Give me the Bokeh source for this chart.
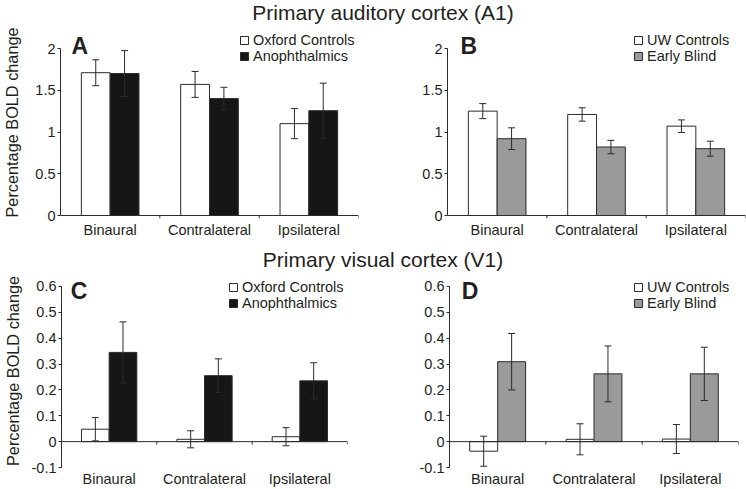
from bokeh.plotting import figure
from bokeh.models import (Range1d, Span, Whisker, TeeHead, Legend, LegendItem, Label,
                          ColumnDataSource, NumeralTickFormatter, FixedTicker)
from bokeh.transform import dodge
from bokeh.layouts import column, row
from bokeh.embed import file_html
from bokeh.resources import INLINE

# ---------------- data ----------------
categories = ["Binaural", "Contralateral", "Ipsilateral"]

# A: Primary auditory cortex, Oxford controls vs anophthalmics
a_oxford = [1.71, 1.57, 1.10]
a_oxford_err = [0.155, 0.155, 0.18]
a_anoph = [1.70, 1.40, 1.255]
a_anoph_err = [0.275, 0.135, 0.33]

# B: Primary auditory cortex, UW controls vs early blind
b_uw = [1.25, 1.21, 1.07]
b_uw_err = [0.09, 0.08, 0.075]
b_blind = [0.92, 0.82, 0.80]
b_blind_err = [0.13, 0.08, 0.09]

# C: Primary visual cortex, Oxford controls vs anophthalmics
c_oxford = [0.048, 0.009, 0.019]
c_oxford_err = [0.045, 0.033, 0.035]
c_anoph = [0.345, 0.255, 0.235]
c_anoph_err = [0.118, 0.065, 0.07]

# D: Primary visual cortex, UW controls vs early blind
d_uw = [-0.037, 0.009, 0.010]
d_uw_err = [0.058, 0.06, 0.056]
d_blind = [0.309, 0.262, 0.262]
d_blind_err = [0.109, 0.108, 0.103]

a1_ticks = [0, 0.5, 1, 1.5, 2]
v1_ticks = [-0.1, 0, 0.1, 0.2, 0.3, 0.4, 0.5, 0.6]

title_a1 = "Primary auditory cortex (A1)"
title_v1 = "Primary visual cortex (V1)"
ylabel = "Percentage BOLD change"

# ---------------- style ----------------
FONT = "Liberation Sans"
TXT = "#231f20"
LINE = "#2b2b2b"
BLACK = "#161616"
GRAY = "#9a9a9a"
OFF = 0.145
BW = 0.29


def panel(width, height, yr, ybounds, yticks, ctrl, ctrl_err, grp, grp_err, grp_color,
          names, letter, letter_xy, legend_xy, with_label, borders, tick_len, label_standoff):
    bl, br, bb = borders
    p = figure(x_range=categories, y_range=Range1d(*yr), width=width, height=height,
               toolbar_location=None, output_backend="svg",
               min_border_left=bl, min_border_right=br, min_border_top=0, min_border_bottom=bb,
               outline_line_color=None, background_fill_color="white", border_fill_color="white")
    p.grid.visible = False

    src = ColumnDataSource(dict(
        cat=categories,
        ctrl=ctrl, ctrl_lo=[v - e for v, e in zip(ctrl, ctrl_err)], ctrl_hi=[v + e for v, e in zip(ctrl, ctrl_err)],
        grp=grp, grp_lo=[v - e for v, e in zip(grp, grp_err)], grp_hi=[v + e for v, e in zip(grp, grp_err)],
    ))

    r1 = p.vbar(x=dodge("cat", -OFF, range=p.x_range), top="ctrl", bottom=0, width=BW, source=src,
                fill_color="white", line_color=LINE, line_width=1)
    r2 = p.vbar(x=dodge("cat", OFF, range=p.x_range), top="grp", bottom=0, width=BW, source=src,
                fill_color=grp_color, line_color=LINE, line_width=1)

    for base, lo, hi in [(-OFF, "ctrl_lo", "ctrl_hi"), (OFF, "grp_lo", "grp_hi")]:
        w = Whisker(source=src, base=dodge("cat", base, range=p.x_range), lower=lo, upper=hi,
                    line_color=LINE, line_width=1, level="annotation",
                    upper_head=TeeHead(size=7, line_color=LINE, line_width=1),
                    lower_head=TeeHead(size=7, line_color=LINE, line_width=1))
        p.add_layout(w)

    # zero line (x axis line) and category boundary ticks
    p.add_layout(Span(location=0, dimension="width", line_color=LINE, line_width=1))
    bounds_x = [i + 1 for i in range(len(categories))]
    p.segment(x0=bounds_x, x1=bounds_x, y0=[0] * len(bounds_x), y1=[-tick_len] * len(bounds_x),
              line_color=LINE, line_width=1)

    # y axis
    ya = p.yaxis[0]
    ya.ticker = FixedTicker(ticks=yticks)
    ya.bounds = ybounds
    ya.formatter = NumeralTickFormatter(format="0.[0]")
    ya.major_tick_out = 3
    ya.major_tick_in = 0
    ya.minor_tick_line_color = None
    ya.minor_tick_out = 0
    ya.axis_line_color = LINE
    ya.major_tick_line_color = LINE
    ya.major_label_text_font = FONT
    ya.major_label_text_font_size = "14.5px"
    ya.major_label_text_color = TXT
    ya.major_label_standoff = 2
    if with_label:
        ya.axis_label = ylabel
        ya.axis_label_text_font = FONT
        ya.axis_label_text_font_size = "16.3px"
        ya.axis_label_text_font_style = "normal"
        ya.axis_label_text_color = TXT
        ya.axis_label_standoff = label_standoff

    # x axis (labels only)
    xa = p.xaxis[0]
    xa.axis_line_color = None
    xa.major_tick_line_color = None
    xa.minor_tick_line_color = None
    xa.major_tick_out = 0
    xa.major_tick_in = 0
    xa.minor_tick_out = 0
    xa.axis_label_standoff = 0
    xa.major_label_text_font = FONT
    xa.major_label_text_font_size = "14.5px"
    xa.major_label_text_color = TXT
    xa.major_label_standoff = 3

    # legend
    leg = Legend(items=[LegendItem(label=names[0], renderers=[r1]),
                        LegendItem(label=names[1], renderers=[r2])],
                 location=legend_xy, orientation="vertical",
                 glyph_width=10, glyph_height=10, label_height=16, label_standoff=4,
                 spacing=0, padding=0, margin=0, border_line_color=None,
                 background_fill_alpha=0, label_text_font=FONT, label_text_font_size="14.5px",
                 label_text_color=TXT)
    p.add_layout(leg)

    # panel letter
    p.add_layout(Label(x=letter_xy[0], y=letter_xy[1], x_units="screen", y_units="screen",
                       text=letter, text_font=FONT, text_font_size="23px", text_font_style="bold",
                       text_color=TXT, text_baseline="alphabetic"))
    return p


def title_fig(text, height, baseline_from_bottom):
    t = figure(width=746, height=height, x_range=Range1d(0, 746), y_range=Range1d(0, height),
               toolbar_location=None, output_backend="svg", min_border=0,
               x_axis_location=None, y_axis_location=None, outline_line_color=None)
    t.grid.visible = False
    t.add_layout(Label(x=382.5, y=baseline_from_bottom, text=text, text_font=FONT,
                       text_font_size="21px", text_color=TXT, text_align="center",
                       text_baseline="alphabetic"))
    return t


top_yr = (-3 / 83.5, 2 + 22 / 83.5)
bot_yr = (-0.1, 0.6 + 12 / 260)

pA = panel(390, 217, top_yr, (0, 2), a1_ticks, a_oxford, a_oxford_err, a_anoph, a_anoph_err, BLACK,
           ["Oxford Controls", "Anophthalmics"], "A", (11, 172.4), (179, 154), True, (58, 32, 25),
           3 / 83.5, 11)
pB = panel(356, 217, top_yr, (0, 2), a1_ticks, b_uw, b_uw_err, b_blind, b_blind_err, GRAY,
           ["UW Controls", "Early Blind"], "B", (13, 172.4), (186, 154), False, (57, 1, 25),
           3 / 83.5, 0)
pC = panel(395, 215, bot_yr, (-0.1, 0.6), v1_ticks, c_oxford, c_oxford_err, c_anoph, c_anoph_err, BLACK,
           ["Oxford Controls", "Anophthalmics"], "C", (9.3, 176.5), (167, 156), True, (58, 48, 21),
           3 / 260, 7)
pD = panel(351, 215, bot_yr, (-0.1, 0.6), v1_ticks, d_uw, d_uw_err, d_blind, d_blind_err, GRAY,
           ["UW Controls", "Early Blind"], "D", (12.3, 177), (184, 156), False, (54, 8, 21),
           3 / 260, 0)

t1 = title_fig(title_a1, 26, 14.5)
t2 = title_fig(title_v1, 31, 14.7)

layout = column(t1, row(pA, pB), t2, row(pC, pD))

open("out.html", "w").write(file_html(layout, INLINE))
